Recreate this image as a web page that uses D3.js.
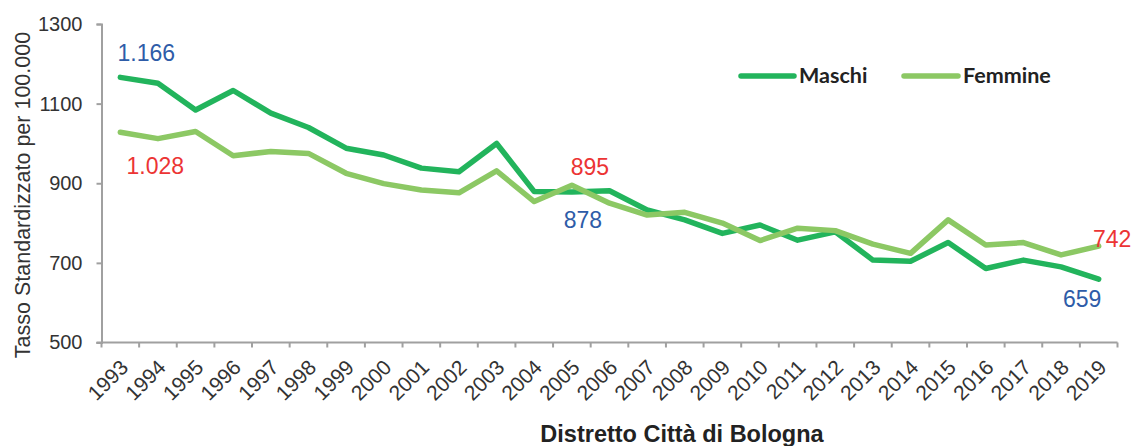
<!DOCTYPE html>
<html>
<head>
<meta charset="utf-8">
<script src="https://cdn.jsdelivr.net/npm/d3@7"></script>
<style>
  html, body { margin: 0; padding: 0; background: #fff; }
  svg { display: block; }
</style>
</head>
<body>
<svg id="chart" width="1135" height="446"></svg>
<script>
// Anni e tassi standardizzati per 100.000 abitanti
const years = ["1993","1994","1995","1996","1997","1998","1999","2000","2001","2002",
  "2003","2004","2005","2006","2007","2008","2009","2010","2011","2012",
  "2013","2014","2015","2016","2017","2018","2019"];
const maschi = [1166, 1151, 1084, 1133, 1076, 1040, 988, 971, 938, 929,
  1000, 879, 878, 881, 833, 808, 774, 795, 757, 778,
  707, 704, 751, 686, 707, 690, 659];
const femmine = [1028, 1012, 1030, 969, 980, 975, 925, 899, 883, 876,
  931, 854, 895, 850, 820, 827, 800, 756, 787, 781,
  747, 724, 808, 745, 751, 720, 742];
const yTicks = [500, 700, 900, 1100, 1300];
const seriesNames = ["Maschi", "Femmine"];

// Etichette dei valori: [serie, anno, testo]
const valueLabels = [
  ["Maschi", "1993", "1.166"],
  ["Femmine", "1993", "1.028"],
  ["Femmine", "2005", "895"],
  ["Maschi", "2005", "878"],
  ["Femmine", "2019", "742"],
  ["Maschi", "2019", "659"]
];

const colors = { Maschi: "#22b45c", Femmine: "#8cc864" };
const labelColors = { Maschi: "#2e5ca8", Femmine: "#ec3434" };
const axisColor = "#a0a0a0";
const textColor = "#333333";

const svg = d3.select("#chart");
const m = { left: 101.5, right: 1117.5, top: 24, bottom: 342.5 };

const x = d3.scaleBand().domain(years).range([m.left, m.right]).paddingInner(0).paddingOuter(0);
const y = d3.scaleLinear().domain([500, 1300]).range([m.bottom, m.top]);
const cx = d => x(d) + x.bandwidth() / 2;

// Asse Y
const yAxis = d3.axisLeft(y).tickValues(yTicks).tickSize(5).tickPadding(14).tickFormat(d3.format("d"));
const gy = svg.append("g").attr("transform", `translate(${m.left},0)`).call(yAxis);
gy.select(".domain").attr("stroke", axisColor).attr("stroke-width", 2);
gy.selectAll(".tick line").attr("stroke", axisColor).attr("stroke-width", 2);
gy.selectAll(".tick text")
  .attr("fill", textColor)
  .style("font-family", "Liberation Sans, Arial, sans-serif")
  .style("font-size", "20px");

// Asse X: tacche ai confini delle categorie
const gx = svg.append("g").attr("transform", `translate(0,${m.bottom})`);
gx.append("line")
  .attr("x1", m.left - 5).attr("x2", m.right)
  .attr("stroke", axisColor).attr("stroke-width", 2);
const bounds = years.map(d => x(d)).concat([m.right]);
gx.selectAll("line.tk").data(bounds).join("line")
  .attr("class", "tk")
  .attr("x1", d => d).attr("x2", d => d)
  .attr("y1", 0).attr("y2", 5)
  .attr("stroke", axisColor).attr("stroke-width", 2);
gx.selectAll("text.yr").data(years).join("text")
  .attr("class", "yr")
  .attr("transform", d => `translate(${cx(d) - 2},15) rotate(-45)`)
  .attr("text-anchor", "end")
  .attr("dy", "0.75em")
  .attr("fill", textColor)
  .style("font-family", "Liberation Sans, Arial, sans-serif")
  .style("font-size", "21px")
  .text(d => d);

// Linee
const line = d3.line().x((d, i) => cx(years[i])).y(d => y(d));
const data = { Maschi: maschi, Femmine: femmine };
seriesNames.forEach(s => {
  svg.append("path")
    .datum(data[s])
    .attr("fill", "none")
    .attr("stroke", colors[s])
    .attr("stroke-width", 5.5)
    .attr("stroke-linejoin", "round")
    .attr("stroke-linecap", "round")
    .attr("d", line);
});

// Etichette dei valori
const labelOffsets = {
  "Maschi|1993": [26, -16.5],
  "Femmine|1993": [35, 41.5],
  "Femmine|2005": [18, -10.5],
  "Maschi|2005": [11, 36],
  "Femmine|2019": [13.5, 0.5],
  "Maschi|2019": [-16.5, 27.5]
};
valueLabels.forEach(([s, yr, txt]) => {
  const v = data[s][years.indexOf(yr)];
  const off = labelOffsets[s + "|" + yr];
  svg.append("text")
    .attr("x", cx(yr) + off[0])
    .attr("y", y(v) + off[1])
    .attr("text-anchor", "middle")
    .attr("fill", labelColors[s])
    .style("font-family", "Liberation Sans, Arial, sans-serif")
    .style("font-size", "23px")
    .text(txt);
});

// Legenda
const legend = svg.append("g");
const legendItems = [
  { name: "Maschi", x1: 741, x2: 794, tx: 799 },
  { name: "Femmine", x1: 904, x2: 958, tx: 963 }
];
legendItems.forEach(it => {
  legend.append("line")
    .attr("x1", it.x1).attr("x2", it.x2).attr("y1", 76).attr("y2", 76)
    .attr("stroke", colors[it.name]).attr("stroke-width", 5.5)
    .attr("stroke-linecap", "round");
  legend.append("text")
    .attr("x", it.tx).attr("y", 83)
    .attr("fill", "#222")
    .style("font-family", "Lato, 'Open Sans', sans-serif")
    .style("font-weight", "bold")
    .style("font-size", "21.5px")
    .text(it.name);
});

// Titoli degli assi
svg.append("text")
  .attr("x", 682).attr("y", 442)
  .attr("text-anchor", "middle")
  .attr("fill", "#222")
  .style("font-family", "Liberation Sans, Arial, sans-serif")
  .style("font-weight", "bold")
  .style("font-size", "23.5px")
  .text("Distretto Città di Bologna");

svg.append("text")
  .attr("transform", "translate(30,195) rotate(-90)")
  .attr("text-anchor", "middle")
  .attr("fill", textColor)
  .style("font-family", "Liberation Sans, Arial, sans-serif")
  .style("font-size", "21.5px")
  .text("Tasso Standardizzato per 100.000");
</script>
</body>
</html>
